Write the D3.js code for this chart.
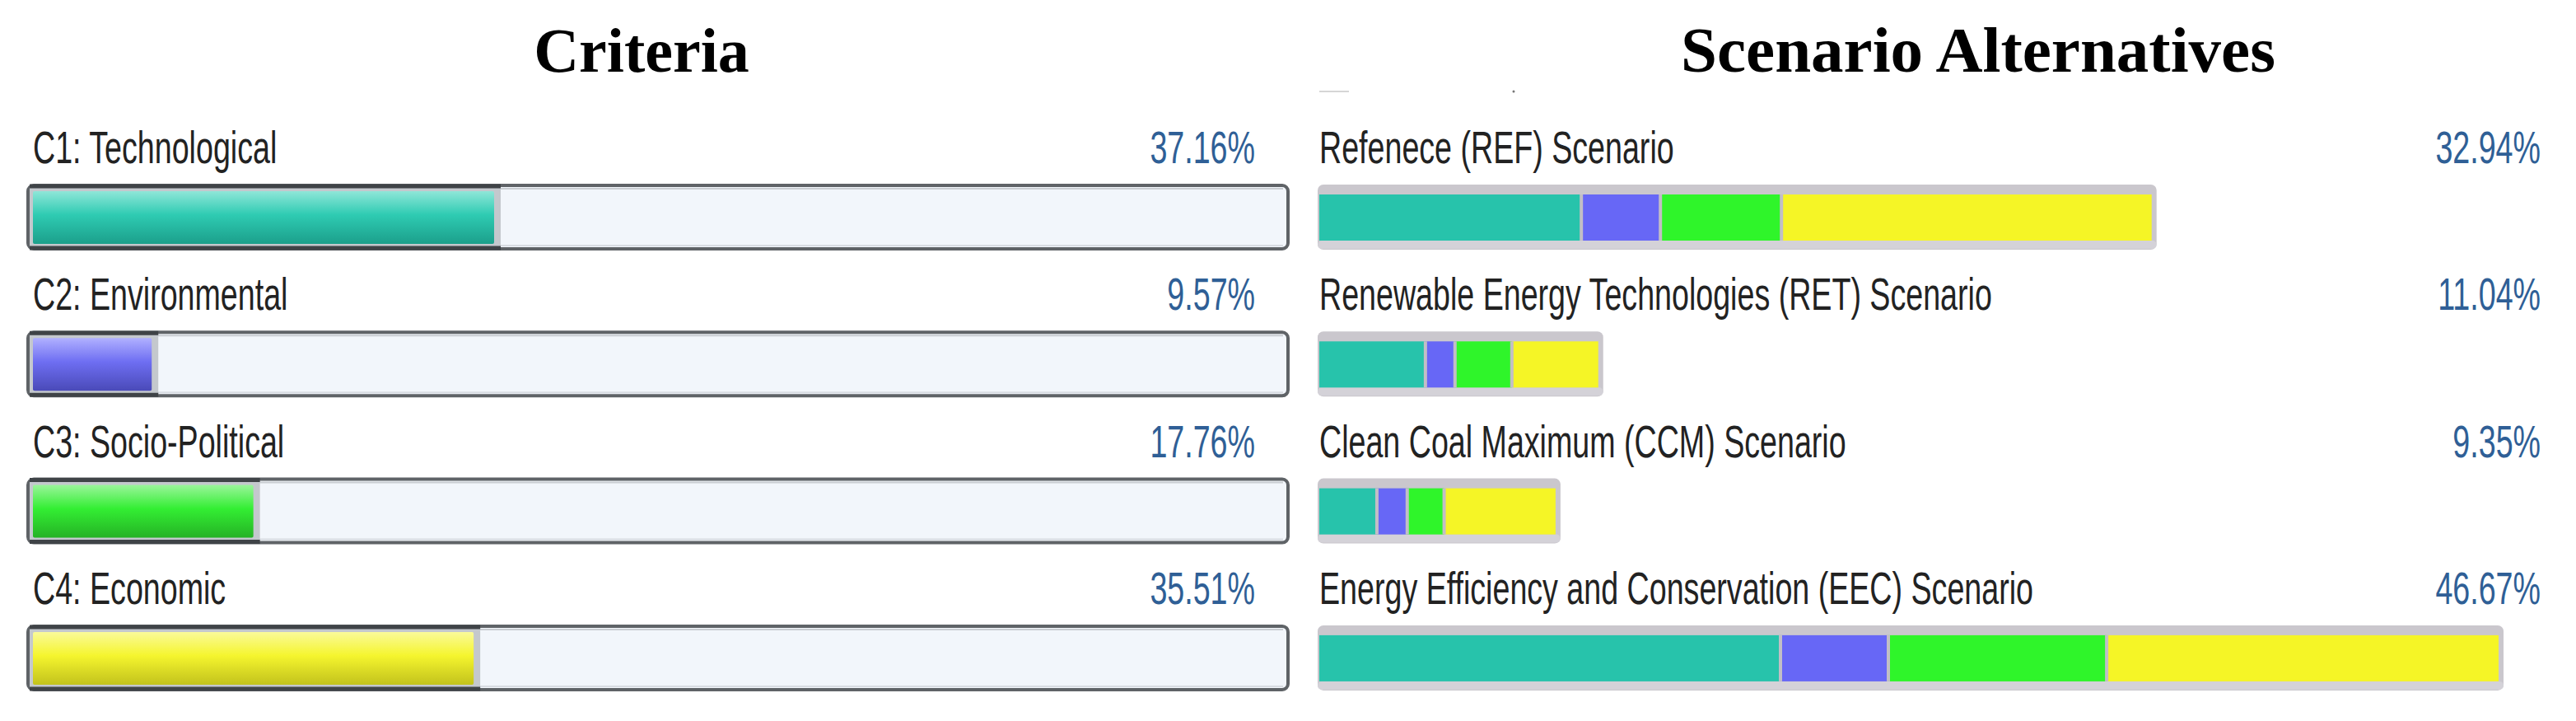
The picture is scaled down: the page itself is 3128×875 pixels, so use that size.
<!DOCTYPE html>
<html>
<head>
<meta charset="utf-8">
<script src="https://cdn.jsdelivr.net/npm/d3@7"></script>
<style>
  html, body { margin: 0; padding: 0; background: #ffffff; }
  svg { display: block; }
</style>
</head>
<body>
<svg id="chart" width="3128" height="875"></svg>
<script>
// ---- data ----
const panelTitles = ["Criteria", "Scenario Alternatives"];
const criteria = ["C1: Technological", "C2: Environmental", "C3: Socio-Political", "C4: Economic"];
const criteriaWeights = [37.16, 9.57, 17.76, 35.51];
const scenarios = [
  "Refenece (REF) Scenario",
  "Renewable Energy Technologies (RET) Scenario",
  "Clean Coal Maximum (CCM) Scenario",
  "Energy Efficiency and Conservation (EEC) Scenario"
];
const scenarioTotals = [32.94, 11.04, 9.35, 46.67];
const techPart  = [10.37, 4.20, 2.28, 18.25];
const envPart   = [3.13, 1.17, 1.20, 4.27];
const socioPart = [4.79, 2.25, 1.46, 8.64];
const econPart  = [14.65, 3.42, 4.41, 15.51];
const seriesKeys = ["tech", "env", "socio", "econ"];

// ---- styles ----
const colors = ["#27c3ab", "#6767f6", "#2ff52a", "#f5f526"];
const gradStops = [
  ["#8fe6d8", "#2ecbb2", "#1c9f8b"],
  ["#b0b0ff", "#6e6ef2", "#4a4ab8"],
  ["#9af59a", "#33ee33", "#25b225"],
  ["#fafa9a", "#f5f52e", "#c2c21c"]
];
const labelFont = "'Liberation Sans', Arial, sans-serif";
const labelSize = 56, squeeze = 0.672;
const rowTop0 = 223, rowStep = 178.3, trackH = 81;

const svg = d3.select("#chart");
const defs = svg.append("defs");
gradStops.forEach((s, i) => {
  const g = defs.append("linearGradient").attr("id", "g" + i)
    .attr("x1", 0).attr("y1", 0).attr("x2", 0).attr("y2", 1);
  g.append("stop").attr("offset", "0%").attr("stop-color", s[0]);
  g.append("stop").attr("offset", "45%").attr("stop-color", s[1]);
  g.append("stop").attr("offset", "100%").attr("stop-color", s[2]);
});

const rowY = d3.scaleLinear().domain([0, 1]).range([rowTop0, rowTop0 + rowStep]);

// titles
svg.selectAll("text.title").data(panelTitles).join("text")
  .attr("class", "title")
  .attr("x", (d, i) => i === 0 ? 779 : 2402)
  .attr("y", 87)
  .attr("text-anchor", "middle")
  .style("font-family", "'Liberation Serif', 'Times New Roman', serif")
  .style("font-weight", "bold")
  .style("font-size", (d, i) => i === 0 ? "76px" : "79px")
  .attr("fill", "#000")
  .text(d => d);

function squeezedText(g, x, y, txt, anchor, color) {
  g.append("text")
    .attr("transform", `translate(${x},${y}) scale(${squeeze},1)`)
    .attr("text-anchor", anchor)
    .style("font-family", labelFont)
    .style("font-size", labelSize + "px")
    .attr("fill", color)
    .text(txt);
}

// ---- left panel: criteria weights ----
const xL = d3.scaleLinear().domain([0, 100]).range([40, 1547]);
const left = svg.append("g");
criteria.forEach((c, i) => {
  const top = rowY(i);
  const g = left.append("g");
  squeezedText(g, 40, top - 25, c, "start", "#222");
  squeezedText(g, 1524, top - 25, criteriaWeights[i].toFixed(2) + "%", "end", "#2f5f96");
  // track
  g.append("rect").attr("x", 34).attr("y", top + 2).attr("width", 1530).attr("height", trackH - 4)
    .attr("rx", 7).attr("fill", "#f2f6fb").attr("stroke", "#5f6367").attr("stroke-width", 4);
  g.append("line").attr("x1", 40).attr("x2", 1558).attr("y1", top + 6).attr("y2", top + 6)
    .attr("stroke", "#c9cdd2").attr("stroke-width", 2);
  g.append("line").attr("x1", 40).attr("x2", 1558).attr("y1", top + trackH - 6).attr("y2", top + trackH - 6)
    .attr("stroke", "#d8dce2").attr("stroke-width", 2);
  // well around filled part
  const xe = xL(criteriaWeights[i]);
  g.append("rect").attr("x", 36).attr("y", top + 4).attr("width", xe + 8 - 36).attr("height", trackH - 8)
    .attr("fill", "#c4c8cd");
  g.append("line").attr("x1", 36).attr("x2", xe + 8).attr("y1", top + 3).attr("y2", top + 3)
    .attr("stroke", "#3f4347").attr("stroke-width", 5);
  g.append("line").attr("x1", 36).attr("x2", xe + 8).attr("y1", top + trackH - 3).attr("y2", top + trackH - 3)
    .attr("stroke", "#3f4347").attr("stroke-width", 5);
  g.append("rect").attr("x", xL(0)).attr("y", top + 9).attr("width", xe - xL(0)).attr("height", trackH - 17)
    .attr("rx", 2).attr("fill", `url(#g${i})`);
});

// ---- right panel: stacked scenario scores ----
const table = scenarios.map((s, i) => ({
  name: s, total: scenarioTotals[i],
  tech: techPart[i], env: envPart[i], socio: socioPart[i], econ: econPart[i]
}));
const stacked = d3.stack().keys(seriesKeys)(table);
const xR = d3.scaleLinear().domain([0, d3.max(scenarioTotals)]).range([1602, 3034]);
const right = svg.append("g");

// faint artifact marks near the top of the panel
right.append("line").attr("x1", 1602).attr("x2", 1638).attr("y1", 111).attr("y2", 111)
  .attr("stroke", "#d6d6d6").attr("stroke-width", 2);
right.append("circle").attr("cx", 1838).attr("cy", 111).attr("r", 1.5).attr("fill", "#777");

table.forEach((d, i) => {
  const top = rowY(i);
  const g = right.append("g");
  squeezedText(g, 1602, top - 25, d.name, "start", "#222");
  squeezedText(g, 3085, top - 25, d.total.toFixed(2) + "%", "end", "#2f5f96");
  g.append("rect").attr("x", 1600).attr("y", top + 1).attr("width", xR(d.total) + 6 - 1600)
    .attr("height", trackH - 2).attr("rx", 7).attr("fill", "#cac7cd");
  g.append("rect").attr("x", 1600).attr("y", top + trackH - 12).attr("width", xR(d.total) + 6 - 1600)
    .attr("height", 10).attr("rx", 5).attr("fill", "#d4d2d8");
});

stacked.forEach((layer, k) => {
  right.append("g").selectAll("rect").data(layer).join("rect")
    .attr("x", (p) => xR(p[0]))
    .attr("y", (p, i) => rowY(i) + 13)
    .attr("width", (p) => xR(p[1]) - xR(p[0]))
    .attr("height", trackH - 25)
    .attr("fill", colors[k]);
});
// separators between segments
stacked.slice(1).forEach((layer) => {
  right.append("g").selectAll("line").data(layer).join("line")
    .attr("x1", (p) => xR(p[0])).attr("x2", (p) => xR(p[0]))
    .attr("y1", (p, i) => rowY(i) + 13).attr("y2", (p, i) => rowY(i) + trackH - 12)
    .attr("stroke", "#c2bec6").attr("stroke-width", 4);
});
</script>
</body>
</html>
